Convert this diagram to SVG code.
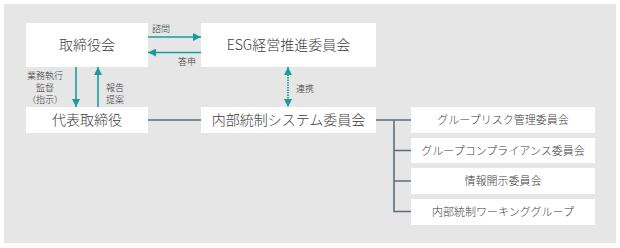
<svg xmlns="http://www.w3.org/2000/svg" width="620" height="248" viewBox="0 0 620 248">
<style>
.bg{fill:#e6e6e6}
.box{fill:#ffffff}
text{font-family:"Noto Sans CJK JP","Noto Sans",sans-serif;fill:#3c3c3c;font-weight:300}
.big{font-size:14px}
.mid{font-size:11px}
.sm{font-size:9px}
.teal{stroke:#1a9ba0;stroke-width:1.6;fill:none}
.gray{stroke:#5f6e78;stroke-width:1.6;fill:none}
</style>
<defs>
<marker id="ah" viewBox="0 0 10 10" refX="10" refY="5" markerWidth="5.5" markerHeight="5" markerUnits="strokeWidth" orient="auto-start-reverse">
<path d="M0,0 L10,5 L0,10 Z" fill="#1a9ba0"/>
</marker>
</defs>
<rect class="bg" x="4" y="4" width="612" height="239"/>
<g id="connectors">
<line class="teal" x1="148" y1="37" x2="201" y2="37" marker-end="url(#ah)"/>
<line class="teal" x1="201" y1="52.5" x2="148" y2="52.5" marker-end="url(#ah)"/>
<line class="teal" x1="76" y1="67" x2="76" y2="107" marker-end="url(#ah)"/>
<line class="teal" x1="98" y1="107" x2="98" y2="67" marker-end="url(#ah)"/>
<line class="teal" x1="288" y1="67" x2="288" y2="107" stroke-dasharray="1.5 1" marker-start="url(#ah)" marker-end="url(#ah)"/>
<line class="gray" x1="148" y1="120" x2="201" y2="120"/>
<line class="gray" x1="376" y1="120" x2="411" y2="120"/>
<path class="gray" d="M394,120 V211.5 H411 M394,150.5 H411 M394,181 H411"/>
<text class="sm" x="152" y="32">諮問</text>
<text class="sm" x="196" y="65" text-anchor="end">答申</text>
<text class="sm" x="45" y="78.5" text-anchor="middle">業務執行</text>
<text class="sm" x="45" y="90.5" text-anchor="middle">監督</text>
<text class="sm" x="45" y="102.5" text-anchor="middle">（指示）</text>
<text class="sm" x="106" y="90.5">報告</text>
<text class="sm" x="106" y="102.5">提案</text>
<text class="sm" x="296" y="92">連携</text>
</g>
<g id="board">
<rect class="box" x="26" y="23" width="122" height="44"/>
<text class="big" x="87" y="50" text-anchor="middle">取締役会</text>
</g>
<g id="esg">
<rect class="box" x="201" y="23" width="175" height="44"/>
<text class="big" x="288.5" y="50" text-anchor="middle">ESG経営推進委員会</text>
</g>
<g id="president">
<rect class="box" x="26" y="107" width="122" height="26"/>
<text class="big" x="87" y="125" text-anchor="middle">代表取締役</text>
</g>
<g id="internal">
<rect class="box" x="201" y="107" width="175" height="26"/>
<text class="big" x="288.5" y="125" text-anchor="middle">内部統制システム委員会</text>
</g>
<g id="risk">
<rect class="box" x="411" y="107" width="184" height="26"/>
<text class="mid" x="503" y="124" text-anchor="middle">グループリスク管理委員会</text>
</g>
<g id="compliance">
<rect class="box" x="411" y="138" width="184" height="25"/>
<text class="mid" x="503" y="154.5" text-anchor="middle">グループコンプライアンス委員会</text>
</g>
<g id="disclosure">
<rect class="box" x="411" y="168" width="184" height="26"/>
<text class="mid" x="503" y="185" text-anchor="middle">情報開示委員会</text>
</g>
<g id="wg">
<rect class="box" x="411" y="199" width="184" height="26"/>
<text class="mid" x="503" y="216" text-anchor="middle">内部統制ワーキンググループ</text>
</g>
</svg>
